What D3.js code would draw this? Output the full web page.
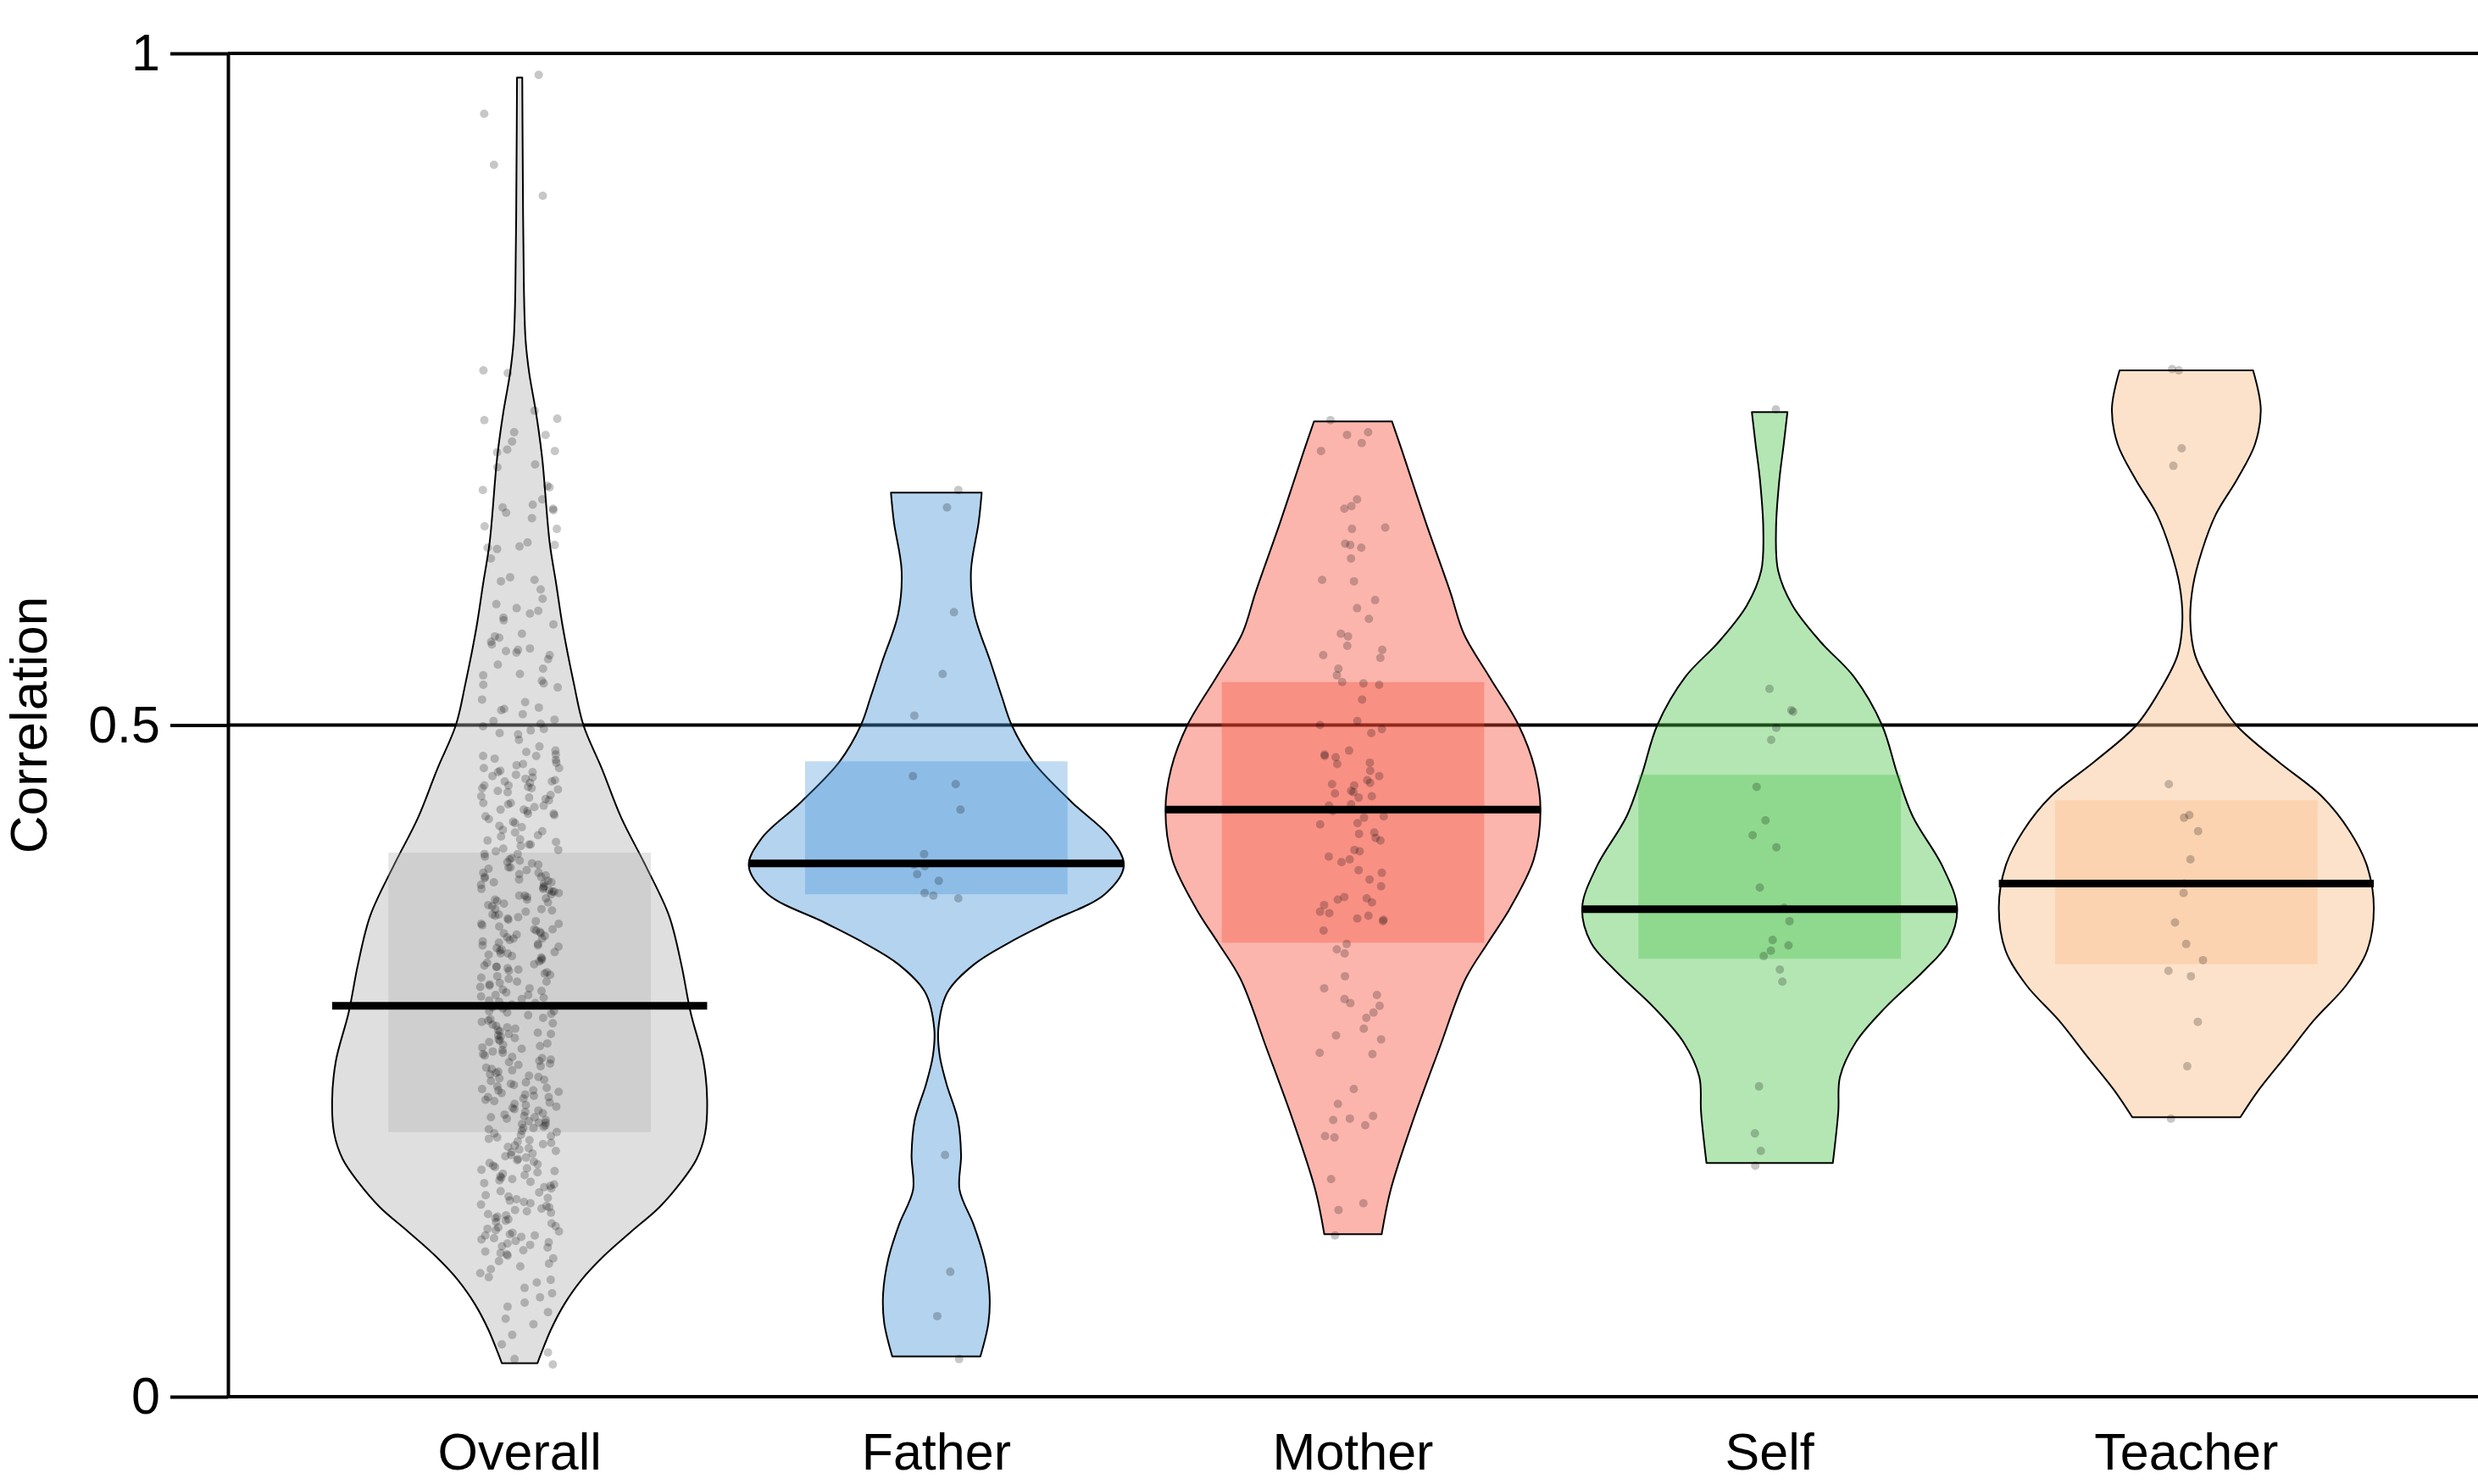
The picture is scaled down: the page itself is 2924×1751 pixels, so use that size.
<!DOCTYPE html>
<html><head><meta charset="utf-8">
<script src="https://cdn.jsdelivr.net/npm/d3@7"></script>
<style>html,body{margin:0;padding:0;background:#fff;} svg{display:block;}</style>
</head><body><svg id="chart" width="2924" height="1751"></svg>
<script>
// ---------------- DATA ----------------
const categories = ["Overall", "Father", "Mother", "Self", "Teacher"];
const means    = [0.291, 0.397, 0.437, 0.363, 0.382];
const bandLow  = [0.197, 0.374, 0.338, 0.326, 0.322];
const bandHigh = [0.405, 0.473, 0.532, 0.463, 0.444];
const yTicks = [0, 0.5, 1];
const yTickLabels = ["0", "0.5", "1"];
const yTitle = "Correlation";

// density profiles: [value, relative half-width]
const densOverall = [[0.025,0.095],[0.033,0.117],[0.050,0.167],[0.069,0.239],[0.087,0.330],[0.105,0.451],[0.123,0.596],[0.141,0.745],[0.160,0.862],[0.177,0.944],[0.196,0.989],[0.221,1.0],[0.250,0.980],[0.286,0.912],[0.322,0.862],[0.358,0.797],[0.395,0.673],[0.431,0.542],[0.467,0.440],[0.500,0.340],[0.531,0.289],[0.573,0.230],[0.605,0.195],[0.636,0.160],[0.699,0.120],[0.732,0.088],[0.762,0.051],[0.786,0.032],[0.823,0.023],[0.931,0.016],[0.982,0.014]];
const densFather = [[0.030,0.235],[0.055,0.278],[0.076,0.284],[0.102,0.257],[0.128,0.199],[0.154,0.124],[0.180,0.132],[0.206,0.115],[0.233,0.054],[0.254,0.018],[0.274,0.011],[0.301,0.059],[0.322,0.203],[0.338,0.388],[0.353,0.596],[0.374,0.898],[0.395,1.0],[0.416,0.930],[0.442,0.727],[0.473,0.515],[0.500,0.402],[0.520,0.352],[0.547,0.289],[0.583,0.203],[0.615,0.185],[0.651,0.226],[0.673,0.242]];
const densMother = [[0.121,0.153],[0.154,0.201],[0.206,0.321],[0.259,0.460],[0.311,0.600],[0.338,0.720],[0.363,0.835],[0.400,0.964],[0.437,1.0],[0.468,0.969],[0.500,0.883],[0.536,0.727],[0.568,0.591],[0.599,0.519],[0.651,0.388],[0.704,0.262],[0.726,0.208]];
const densSelf = [[0.174,0.337],[0.212,0.366],[0.238,0.375],[0.264,0.460],[0.290,0.619],[0.317,0.822],[0.338,0.953],[0.364,1.0],[0.395,0.921],[0.432,0.763],[0.463,0.682],[0.500,0.599],[0.536,0.449],[0.562,0.271],[0.589,0.122],[0.615,0.045],[0.646,0.034],[0.683,0.052],[0.709,0.075],[0.733,0.095]];
const densTeacher = [[0.208,0.288],[0.228,0.384],[0.254,0.533],[0.280,0.679],[0.306,0.851],[0.332,0.964],[0.364,1.0],[0.395,0.964],[0.421,0.871],[0.447,0.722],[0.473,0.488],[0.500,0.266],[0.526,0.140],[0.552,0.047],[0.578,0.021],[0.604,0.036],[0.630,0.084],[0.657,0.158],[0.683,0.271],[0.709,0.366],[0.735,0.397],[0.764,0.356]];

// individual correlations (points)
const ptsOverall = [
0.984,0.955,0.917,0.894,0.764,0.762,0.734,0.728,0.727,0.718,0.716,0.711,0.705,0.704,0.703,0.694,0.692,0.678,0.677,0.675,0.668,0.664,0.662,0.661,0.660,0.658,0.654,0.648,0.646,0.636,0.634,0.633,0.632,0.631,0.624,0.610,0.608,0.607,0.601,0.594,0.590,0.587,0.585,0.583,0.580,0.578,0.575,0.568,0.566,0.565,0.562,0.560,0.557,0.556,0.555,0.554,0.552,0.549,0.545,0.542,0.538,0.537,0.533,0.531,0.530,0.528,0.519,0.517,0.513,0.512,0.511,0.508,0.504,0.503,
0.501,0.499,0.497,0.496,0.494,0.493,0.489,0.484,
0.481,0.480,0.478,0.477,0.477,0.475,0.474,0.472,
0.471,0.470,0.468,0.468,0.466,0.465,0.465,0.463,0.462,0.461,
0.460,0.459,0.458,0.458,0.457,0.455,0.455,0.454,0.453,0.453,0.452,0.451,
0.450,0.448,0.447,0.446,0.445,0.444,0.442,0.442,0.441,
0.440,0.439,0.437,0.437,0.436,0.434,0.434,0.433,0.432,0.430,
0.428,0.427,0.425,0.424,0.422,0.421,0.420,
0.418,0.417,0.415,0.414,0.413,0.411,0.411,0.410,
0.408,0.407,0.406,0.404,0.404,0.402,0.401,0.400,0.399,
0.398,0.397,0.396,0.394,0.394,0.393,0.392,0.390,0.390,0.389,
0.388,0.387,0.387,0.386,0.385,0.384,0.383,0.383,0.382,0.381,0.380,0.379,0.378,0.378,
0.377,0.376,0.376,0.375,0.374,0.373,0.373,0.372,0.371,0.370,0.370,0.369,0.368,0.367,
0.366,0.365,0.363,0.363,0.362,0.361,0.359,0.359,0.358,0.357,
0.356,0.355,0.354,0.352,0.352,0.351,0.350,0.348,0.348,0.347,
0.346,0.345,0.345,0.344,0.343,0.342,0.341,0.341,0.340,0.339,0.338,0.337,0.336,0.336,
0.335,0.334,0.333,0.332,0.331,0.330,0.330,0.329,0.328,0.327,0.326,0.325,
0.324,0.323,0.322,0.321,0.320,0.320,0.319,0.318,0.317,0.316,0.315,0.314,
0.313,0.312,0.311,0.309,0.309,0.308,0.307,0.306,0.305,0.304,
0.303,0.302,0.301,0.299,0.299,0.298,0.297,0.296,0.295,0.294,
0.293,0.292,0.291,0.290,0.289,0.287,0.287,0.286,0.285,0.284,
0.282,0.281,0.280,0.279,0.278,0.277,0.276,0.275,0.274,0.273,
0.272,0.271,0.270,0.270,0.269,0.268,0.267,0.266,0.265,0.264,0.263,0.262,
0.261,0.260,0.259,0.258,0.257,0.256,0.255,0.254,0.253,0.252,
0.251,0.250,0.249,0.248,0.247,0.246,0.245,0.244,0.243,0.242,
0.241,0.240,0.239,0.238,0.237,0.236,0.235,0.234,0.233,0.232,0.231,0.230,
0.229,0.228,0.228,0.227,0.226,0.225,0.224,0.223,0.223,0.222,0.221,0.220,
0.219,0.218,0.217,0.216,0.215,0.214,0.213,0.212,0.211,0.210,
0.209,0.208,0.208,0.207,0.206,0.205,0.204,0.204,0.203,0.202,0.201,0.200,0.200,0.199,
0.198,0.197,0.196,0.195,0.194,0.193,0.192,0.191,0.190,0.189,
0.188,0.187,0.186,0.185,0.184,0.183,0.182,0.181,0.180,0.179,
0.178,0.177,0.176,0.175,0.174,0.173,0.172,0.171,0.170,0.169,0.168,0.167,
0.166,0.165,0.164,0.163,0.162,0.161,0.160,0.159,0.158,0.157,
0.156,0.155,0.153,0.152,0.150,0.149,0.148,0.147,
0.146,0.145,0.144,0.143,0.142,0.141,0.140,0.139,0.138,0.137,
0.136,0.135,0.134,0.133,0.132,0.131,0.130,0.129,0.127,0.126,
0.125,0.124,0.123,0.122,0.121,0.120,0.120,0.119,0.118,0.117,0.116,0.115,
0.114,0.113,0.112,0.111,0.109,0.108,0.107,0.106,0.105,
0.103,0.101,0.099,0.097,0.095,0.092,0.089,0.087,0.085,
0.081,0.077,0.074,0.070,0.067,0.063,0.058,0.054,0.046,0.039,0.033,0.028,0.024];
const ptsFather = [0.675,0.662,0.584,0.538,0.507,0.462,0.456,0.437,0.404,0.396,0.395,0.389,0.384,0.375,0.373,0.371,0.180,0.093,0.060,0.028];
const ptsMother = [0.727,0.718,0.716,0.710,0.704,0.668,0.663,0.661,0.647,0.646,0.635,0.634,0.632,0.624,0.608,0.607,0.593,0.587,0.579,0.568,0.566,0.559,0.556,0.552,0.550,0.542,0.537,0.532,0.531,0.530,0.519,0.503,0.500,0.497,0.494,0.481,0.478,0.477,0.476,0.472,0.471,0.466,0.462,0.459,0.457,0.456,0.455,0.451,0.450,0.449,0.447,0.446,0.441,0.436,0.432,0.427,
0.440,0.431,0.426,0.420,0.419,0.416,0.414,0.407,0.406,0.402,0.400,0.398,0.392,0.390,0.385,0.380,0.372,0.371,0.370,0.368,0.366,0.361,0.360,0.358,0.356,0.355,0.354,0.347,0.337,0.333,0.330,0.313,0.304,0.299,0.296,0.293,0.291,0.286,0.282,0.274,0.269,0.266,0.256,0.255,0.229,0.218,0.209,0.207,0.206,0.202,0.194,0.193,0.162,0.144,0.139,0.120];
const ptsSelf = [0.735,0.527,0.511,0.510,0.498,0.489,0.454,0.429,0.418,0.409,0.379,0.364,0.354,0.340,0.336,0.332,0.328,0.318,0.309,0.231,0.196,0.183,0.172];
const ptsTeacher = [0.765,0.764,0.706,0.693,0.456,0.433,0.431,0.421,0.400,0.382,0.375,0.353,0.337,0.325,0.317,0.313,0.279,0.246,0.207];

// ---------------- STYLE / LAYOUT ----------------
const densities = [densOverall, densFather, densMother, densSelf, densTeacher];
const points = [ptsOverall, ptsFather, ptsMother, ptsSelf, ptsTeacher];
const baseColors = ["#b0b0b0", "#4191d7", "#f54632", "#43c043", "#fab67d"];
const jitterWidths = [0.095, 0.06, 0.08, 0.06, 0.045];
const beanOpacity = 0.4, barOpacity = 0.33;
const beanHalf = 0.45, barHalf = 0.315;
const font = "'Liberation Sans', Arial, Helvetica, sans-serif";

const svg = d3.select("#chart");
const x = d3.scaleLinear().domain([0.3, 5.7]).range([269, 2924]);
const y = d3.scaleLinear().domain([0, 1]).range([1648, 63]);

// y axis
const yAxis = d3.axisLeft(y).tickValues(yTicks)
  .tickFormat((d, i) => yTickLabels[i]).tickSize(68).tickSizeOuter(0).tickPadding(12);
const gy = svg.append("g").attr("transform", `translate(${x(0.3)},0)`).call(yAxis);
gy.select(".domain").attr("stroke", "#000").attr("stroke-width", 4);
gy.selectAll(".tick line").attr("stroke", "#000").attr("stroke-width", 4);
gy.selectAll(".tick text").attr("font-family", font).attr("font-size", 61).attr("fill", "#000");

// reference lines (behind beans)
svg.append("g").selectAll("line").data(yTicks).join("line")
  .attr("x1", x(0.3)).attr("x2", x(5.7))
  .attr("y1", d => y(d)).attr("y2", d => y(d))
  .attr("stroke", "#000").attr("stroke-width", 4);

// y title
svg.append("text").attr("transform", `translate(55,${y(0.5)}) rotate(-90)`)
  .attr("text-anchor", "middle").attr("font-family", font).attr("font-size", 62)
  .text(yTitle);

// x labels
svg.append("g").selectAll("text").data(categories).join("text")
  .attr("x", (d, i) => x(i + 1)).attr("y", 1734)
  .attr("text-anchor", "middle").attr("font-family", font).attr("font-size", 61)
  .text(d => d);

const rng = d3.randomLcg(0.4242);
const unif = d3.randomUniform.source(rng)(-1, 1);

categories.forEach((c, i) => {
  const cx = i + 1;
  const g = svg.append("g");
  const area = d3.area().curve(d3.curveCatmullRom.alpha(0.5))
    .y(d => y(d[0]))
    .x0(d => x(cx - d[1] * beanHalf))
    .x1(d => x(cx + d[1] * beanHalf));
  g.append("path").datum(densities[i]).attr("d", area)
    .attr("fill", baseColors[i]).attr("fill-opacity", beanOpacity)
    .attr("stroke", "#000").attr("stroke-width", 2).attr("stroke-linejoin", "round");
  g.append("rect")
    .attr("x", x(cx - barHalf)).attr("width", x(cx + barHalf) - x(cx - barHalf))
    .attr("y", y(bandHigh[i])).attr("height", y(bandLow[i]) - y(bandHigh[i]))
    .attr("fill", baseColors[i]).attr("fill-opacity", barOpacity);
  g.append("g").selectAll("circle").data(points[i]).join("circle")
    .attr("cx", () => x(cx + unif() * jitterWidths[i])).attr("cy", d => y(d)).attr("r", 5)
    .attr("fill", "#000").attr("fill-opacity", 0.22);
  g.append("line")
    .attr("x1", x(cx - beanHalf)).attr("x2", x(cx + beanHalf))
    .attr("y1", y(means[i])).attr("y2", y(means[i]))
    .attr("stroke", "#000").attr("stroke-width", 9);
});
</script></body></html>
